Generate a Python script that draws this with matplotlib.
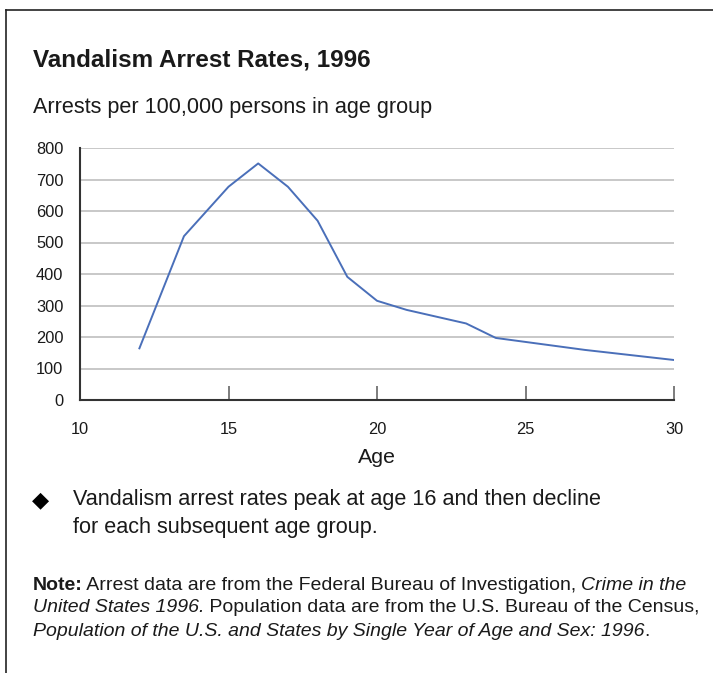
import matplotlib
matplotlib.use("Agg")
import matplotlib.pyplot as plt
from matplotlib.lines import Line2D

plt.rcParams['font.family'] = ['Liberation Sans', 'DejaVu Sans']

# data
ages = [12, 13.5, 15, 16, 17, 18, 19, 20, 21, 23, 24, 27, 30]
rates = [164, 520, 677, 751, 677, 569, 391, 315, 286, 243, 197, 159, 127]
x_ticks = [10, 15, 20, 25, 30]
y_ticks = [0, 100, 200, 300, 400, 500, 600, 700, 800]

title = "Vandalism Arrest Rates, 1996"
subtitle = "Arrests per 100,000 persons in age group"
bullet_lines = ["Vandalism arrest rates peak at age 16 and then decline",
                "for each subsequent age group."]
note_lines = [
    [("Note:", "bold"), (" Arrest data are from the Federal Bureau of Investigation, ", "normal"),
     ("Crime in the", "italic")],
    [("United States 1996.", "italic"), (" Population data are from the U.S. Bureau of the Census,", "normal")],
    [("Population of the U.S. and States by Single Year of Age and Sex: 1996", "italic"), (".", "normal")],
]

W, H = 713, 673
TXT = '#1a1a1a'

fig = plt.figure(figsize=(W / 100, H / 100), dpi=100)

def fx(px):
    return px / W

def fy(py):
    return 1 - py / H

# frame (top and left edges only)
fig.add_artist(Line2D([fx(6), fx(6)], [fy(10), 0], color='#222222', lw=1.2))
fig.add_artist(Line2D([fx(6), 1], [fy(10), fy(10)], color='#222222', lw=1.2))

fig.text(fx(33), fy(60), title, fontsize=17.5, fontweight='bold', color=TXT, va='center')
fig.text(fx(33), fy(107), subtitle, fontsize=15.6, color=TXT, va='center')

ax = fig.add_axes([fx(80), fy(400), fx(674) - fx(80), fy(148) - fy(400)])
ax.plot(ages, rates, color='#4a6fb9', lw=1.4, zorder=3)
ax.set_xlim(10, 30)
ax.set_ylim(0, 800)
ax.set_yticks(y_ticks)
ax.set_xticks(x_ticks)
ax.yaxis.grid(True, color='#c4c4c4', lw=1.3)
ax.set_axisbelow(True)
for s in ['top', 'right']:
    ax.spines[s].set_visible(False)
for s in ['left', 'bottom']:
    ax.spines[s].set_color('#333333')
    ax.spines[s].set_linewidth(1.5)
ax.tick_params(axis='y', length=0, pad=12, labelsize=11.8, labelcolor=TXT)
ax.tick_params(axis='x', direction='in', length=10, width=1.2, color='#666666',
               pad=16, labelsize=11.8, labelcolor=TXT)
ax.set_xlabel("Age", fontsize=15.4, color=TXT, labelpad=8)

# bullet
fig.text(fx(40), fy(500), "\u25c6", fontsize=16, color='black', ha='center', va='center',
         family=['DejaVu Sans'])
for i, line in enumerate(bullet_lines):
    fig.text(fx(73), fy(500 + 27 * i), line, fontsize=15.6, color=TXT, va='center')

# note with mixed styles
fig.canvas.draw()
renderer = fig.canvas.get_renderer()
for i, runs in enumerate(note_lines):
    x = fx(33)
    for s, style in runs:
        kw = {'fontweight': 'bold'} if style == 'bold' else {}
        if style == 'italic':
            kw['fontstyle'] = 'italic'
        t = fig.text(x, fy(585 + 23 * i), s, fontsize=14.0, color=TXT, va='center', **kw)
        x += (t.get_window_extent(renderer).width - 0.5) / W

fig.savefig("out.png", dpi=100)
